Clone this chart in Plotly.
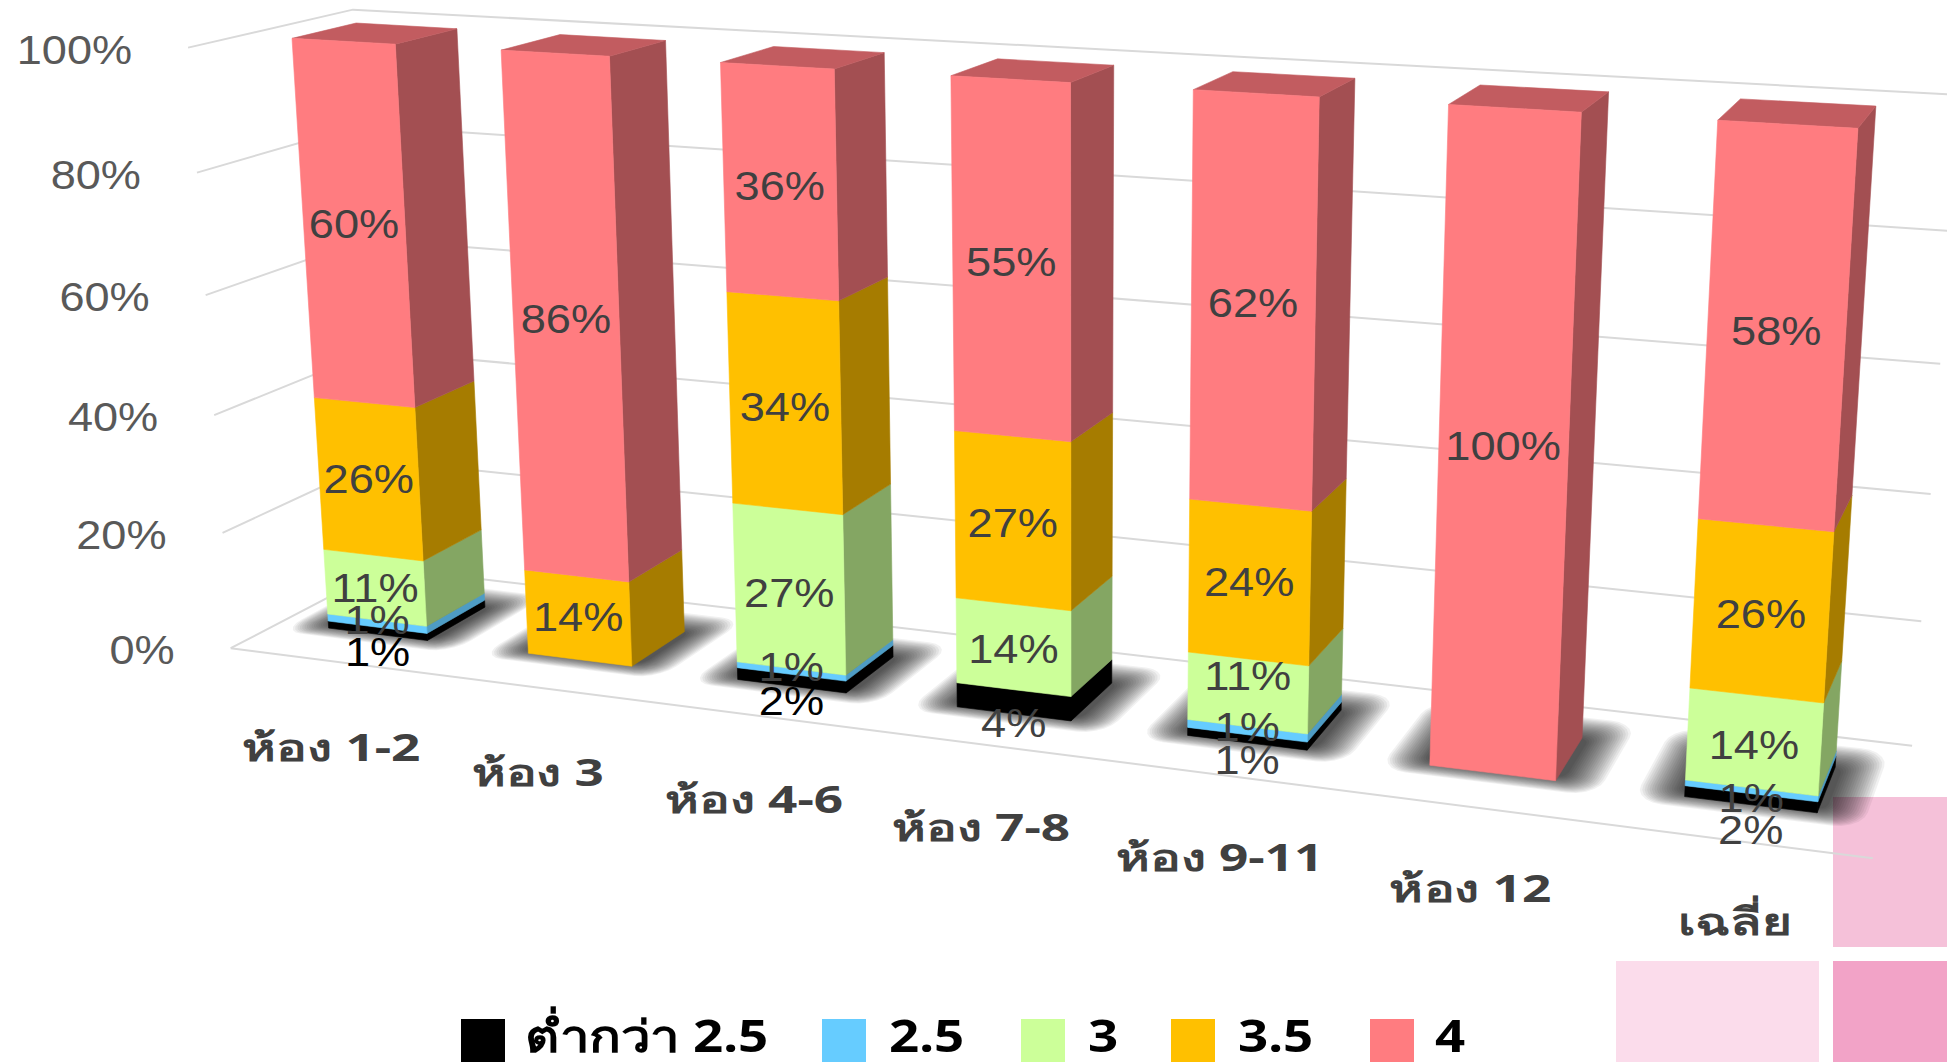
import numpy as np
import plotly.graph_objects as go

# ---------- data ----------
categories = ["ห้อง 1-2", "ห้อง 3", "ห้อง 4-6", "ห้อง 7-8", "ห้อง 9-11", "ห้อง 12", "เฉลี่ย"]
series_names = ["ต่ำกว่า 2.5", "2.5", "3", "3.5", "4"]
below_2_5 = [1.25, 0, 2, 4, 1.3, 0, 1.7]
grade_2_5 = [1.25, 0, 1, 0, 1.3, 0, 0.9]
grade_3 = [11.4, 0, 26.6, 14, 10.9, 0, 14.2]
grade_3_5 = [26.3, 14.4, 34.4, 27, 24.3, 0, 25.6]
grade_4 = [59.8, 85.6, 36, 55, 62.2, 100, 57.6]
axis_ticks = [0, 20, 40, 60, 80, 100]

# ---------- style ----------
FRONT = ["#000000", "#66CCFF", "#CCFF99", "#FFC000", "#FF7C80"]
SIDE = ["#000000", "#4E9CC4", "#84A663", "#A67C00", "#A34F52"]
TOP = ["#000000", "#58B0DC", "#A3CC7A", "#C29100", "#C25C60"]
GRID = "#D9D9D9"
SANS = "Liberation Sans"

# ---------- 3D chart box -> page cameras, calibrated on the box corners ----------
bar_marks = [
    ((.25, .25, 1), (292, 38)), ((.75, .25, 1), (395.5, 44)), ((.75, .75, 1), (457, 29)), ((.25, .75, 1), (356, 23)),
    ((.25, .25, 0), (328.6, 628)), ((.75, .25, 0), (427.7, 640.7)), ((.75, .75, 0), (485, 607.7)),
    ((1.25, .25, 1), (501, 51)), ((1.75, .25, 1), (609, 57)), ((1.75, .75, 1), (666, 40)), ((1.25, .75, 1), (560, 34)),
    ((1.25, .25, 0), (528.6, 653)), ((1.75, .25, 0), (631.7, 666)), ((1.75, .75, 0), (684, 632)),
    ((2.25, .25, 0), (737.5, 679)), ((2.75, .25, 0), (846, 692.7)), ((2.75, .75, 0), (893, 656.7)),
    ((3.25, .25, 0), (957.4, 706.7)), ((3.75, .25, 0), (1071, 720.7)), ((3.75, .75, 0), (1111.6, 683)),
    ((4.25, .25, 0), (1187.8, 735.7)), ((4.75, .25, 0), (1307.6, 750)), ((4.75, .75, 0), (1341, 710.7)),
    ((5.25, .25, 1), (1449, 104)), ((5.75, .25, 1), (1581, 112)), ((5.75, .75, 1), (1608, 92)), ((5.25, .75, 1), (1480, 85)),
    ((5.25, .25, 0), (1429.7, 765.7)), ((5.75, .25, 0), (1555, 781)), ((5.75, .75, 0), (1583, 738)),
    ((6.25, .25, 1), (1718, 120)), ((6.75, .25, 1), (1858, 128)), ((6.75, .75, 1), (1875.6, 106.7)), ((6.25, .75, 1), (1741, 99)),
    ((6.25, .25, 0), (1684.7, 797)), ((6.75, .25, 0), (1817, 813)), ((6.75, .75, 0), (1835, 766)),
]
wall_marks = [
    ((0, 0, 0), (231, 647)), ((0, 0, .2), (222, 533)), ((0, 0, .4), (214, 415)), ((0, 0, .6), (206, 295)),
    ((0, 0, .8), (197, 173)), ((0, 0, 1), (188, 48)), ((0, 1, 1), (353, 9)), ((0, 1, 0), (385, 569)),
    ((7, 0, 0), (1873, 859)), ((7, 1, 0), (1912, 745)), ((7, 1, 1), (1960, 95)),
]


def make_camera(marks, use_residual):
    A, b = [], []
    for (X, Y, Z), (u, v) in marks:
        A.append([X, Y, Z, 1, 0, 0, 0, 0, -u * X, -u * Y, -u * Z]); b.append(u)
        A.append([0, 0, 0, 0, X, Y, Z, 1, -v * X, -v * Y, -v * Z]); b.append(v)
    p = np.linalg.lstsq(np.array(A, float), np.array(b, float), rcond=None)[0]
    P = np.append(p, 1).reshape(3, 4)

    def pin(X, Y, Z):
        h = P @ np.array([X, Y, Z, 1.0])
        return h[0] / h[2], h[1] / h[2]

    if not use_residual:
        return pin

    def terms(X, Y, Z):
        return [1, X, Y, Z, X * Y, X * Z, Y * Z, X * X, X * X * Y, X * X * Z]

    T = np.array([terms(*m[0]) for m in marks], float)
    Ru = np.array([m[1][0] - pin(*m[0])[0] for m in marks])
    Rv = np.array([m[1][1] - pin(*m[0])[1] for m in marks])
    cu = np.linalg.lstsq(T, Ru, rcond=None)[0]
    cv = np.linalg.lstsq(T, Rv, rcond=None)[0]

    def full(X, Y, Z):
        u, v = pin(X, Y, Z)
        t = np.array(terms(X, Y, Z), float)
        return u + t @ cu, v + t @ cv

    return full


proj = make_camera(bar_marks, True)
wall = make_camera(wall_marks, False)


def poly_trace(polys, color, line=True):
    xs, ys = [], []
    for poly in polys:
        for q in poly:
            u, v = proj(*q)
            xs.append(u); ys.append(v)
        u, v = proj(*poly[0])
        xs.append(u); ys.append(v)
        xs.append(None); ys.append(None)
    return go.Scatter(x=xs, y=ys, mode="lines", fill="toself", fillcolor=color,
                      line=dict(color=color if line else "rgba(0,0,0,0)", width=0.6 if line else 0),
                      hoverinfo="skip", showlegend=False)


fig = go.Figure()

# ---------- page decoration ----------
shapes = [
    dict(type="rect", x0=1833, x1=1947, y0=797, y1=947, fillcolor="#F5C1D9", line_width=0, layer="below"),
    dict(type="rect", x0=1616, x1=1819, y0=961, y1=1062, fillcolor="#FBDCEB", line_width=0, layer="below"),
    dict(type="rect", x0=1833, x1=1947, y0=961, y1=1062, fillcolor="#F2A3C7", line_width=0, layer="below"),
]

# ---------- walls ----------
tick_fracs = [t / 100 for t in axis_ticks]
for z in tick_fracs:
    pts = [wall(0, 0, z), wall(0, 1, z), wall(7, 1, z)]
    fig.add_trace(go.Scatter(x=[q[0] for q in pts], y=[q[1] for q in pts], mode="lines",
                             line=dict(color=GRID, width=2), hoverinfo="skip", showlegend=False))
pts = [wall(0, 0, 0), wall(7, 0, 0)]
fig.add_trace(go.Scatter(x=[q[0] for q in pts], y=[q[1] for q in pts], mode="lines",
                         line=dict(color=GRID, width=2), hoverinfo="skip", showlegend=False))


# ---------- soft shadows on the floor ----------
def rounded(x0, x1, y0, y1, r):
    rx, ry = r, r * 1.6
    out = []
    for cx, cy, a0 in [(x1 - rx, y1 - ry, 0), (x0 + rx, y1 - ry, 90), (x0 + rx, y0 + ry, 180), (x1 - rx, y0 + ry, 270)]:
        for a in np.radians(np.linspace(a0, a0 + 90, 6)):
            out.append((cx + rx * np.cos(a), cy + ry * np.sin(a), 0))
    return out


LAYERS = 18
alpha = 1 - 0.37 ** (1 / LAYERS)
for k in range(LAYERS):
    t = 1 - k / (LAYERS - 1)
    ex = .03 + .15 * t
    ef = -.04 + .15 * t
    eb = .0 + .24 * t
    fig.add_trace(poly_trace(
        [rounded(i + .25 - ex, i + .75 + ex, .25 - ef, .75 + eb, .04 + .07 * t) for i in range(len(categories))],
        f"rgba(0,0,0,{alpha:.4f})", line=False))

# ---------- bars ----------
stack = np.array([below_2_5, grade_2_5, grade_3, grade_3_5, grade_4], float)
totals = stack.sum(axis=0)
shares = stack / totals
tops = np.cumsum(shares, axis=0)
bottoms = tops - shares

for s in range(len(series_names)):
    side_polys, front_polys, top_polys = [], [], []
    for i in range(len(categories)):
        if stack[s, i] == 0:
            continue
        z0, z1 = bottoms[s, i], tops[s, i]
        l, r = i + .25, i + .75
        side_polys.append([(r, .25, z0), (r, .75, z0), (r, .75, z1), (r, .25, z1)])
        front_polys.append([(l, .25, z0), (r, .25, z0), (r, .25, z1), (l, .25, z1)])
        if s == len(series_names) - 1:
            top_polys.append([(l, .25, z1), (r, .25, z1), (r, .75, z1), (l, .75, z1)])
    fig.add_trace(poly_trace(side_polys, SIDE[s]))
    if top_polys:
        fig.add_trace(poly_trace(top_polys, TOP[s]))
    fig.add_trace(poly_trace(front_polys, FRONT[s]))

# ---------- data labels ----------
label_shift = [25, 0, 3, 3, 3]
bar_shift = [1, 0, 5, 3, 1, -2, 4]
label_nudge = {(2, 4): -17, (1, 6): 11, (0, 6): 10}
lx, ly, lt, lc = [], [], [], []
for s in range(len(series_names)):
    for i in range(len(categories)):
        if stack[s, i] == 0:
            continue
        u, v = proj(i + .5, .25, (bottoms[s, i] + tops[s, i]) / 2)
        extra = bar_shift[i] if s >= 2 else 0
        lx.append(u); ly.append(v + label_shift[s] + extra + label_nudge.get((s, i), 0))
        lt.append(f"{round(stack[s, i])}%")
        lc.append("#000000" if (s == 0 and i in (0, 2)) else "#404040")
fig.add_trace(go.Scatter(x=lx, y=ly, mode="text", text=lt, textposition="middle center",
                         textfont=dict(family=SANS, size=40, color=lc), hoverinfo="skip", showlegend=False))

# ---------- value axis ----------
ax, ay = [], []
for z in tick_fracs:
    u, v = wall(0, 0, z)
    ax.append(u - 56); ay.append(v + 6)
fig.add_trace(go.Scatter(x=ax, y=ay, mode="text", text=[f"{t}%" for t in axis_ticks], textposition="middle left",
                         textfont=dict(family=SANS, size=41, color="#595959"), hoverinfo="skip", showlegend=False))

# ---------- category axis ----------
cx, cy = [], []
for i in range(len(categories)):
    u, v = proj(i + .5, -.1, -.14)
    cx.append(u - 8 + 12 * i / 6); cy.append(v + 12 - 16 * i / 6)
fig.add_trace(go.Scatter(x=cx, y=cy, mode="text", text=categories, textposition="middle center",
                         textfont=dict(family="Noto Sans, DejaVu Sans", size=38, color="#404040", weight="bold"),
                         hoverinfo="skip", showlegend=False))

# ---------- legend ----------
swatch_left = [461, 822, 1021, 1171, 1370]
text_left = [525, 889, 1088, 1238, 1435]
for s in range(len(series_names)):
    shapes.append(dict(type="rect", x0=swatch_left[s], x1=swatch_left[s] + 44, y0=1019, y1=1070,
                       fillcolor=FRONT[s], line_width=0, layer="above"))
fig.add_trace(go.Scatter(x=text_left, y=[1041] * 5, mode="text", text=series_names, textposition="middle right",
                         textfont=dict(family="Noto Sans, DejaVu Sans", size=44, color="#000000", weight="bold"),
                         hoverinfo="skip", showlegend=False))

fig.update_layout(
    width=1947, height=1062, margin=dict(l=0, r=0, t=0, b=0),
    paper_bgcolor="white", plot_bgcolor="white", showlegend=False, shapes=shapes,
    xaxis=dict(range=[0, 1947], visible=False, fixedrange=True),
    yaxis=dict(range=[1062, 0], visible=False, fixedrange=True),
)
stretch_js = """
document.body.style.margin='0';
document.documentElement.style.overflow='hidden';
var widen={40:1.13,41:1.1,38:1.35,44:1.2};
document.querySelectorAll('.textpoint text').forEach(function(el){
  var k=widen[Math.round(parseFloat(getComputedStyle(el).fontSize))];
  if(k){
    var x=parseFloat(el.getAttribute('x'));
    var old=el.getAttribute('transform')||'';
    el.setAttribute('transform','translate('+x+',0) scale('+k+',1) translate('+(-x)+',0) '+old);
  }
});
"""
fig.write_html("out.html", config={"displayModeBar": False}, post_script=stretch_js)
